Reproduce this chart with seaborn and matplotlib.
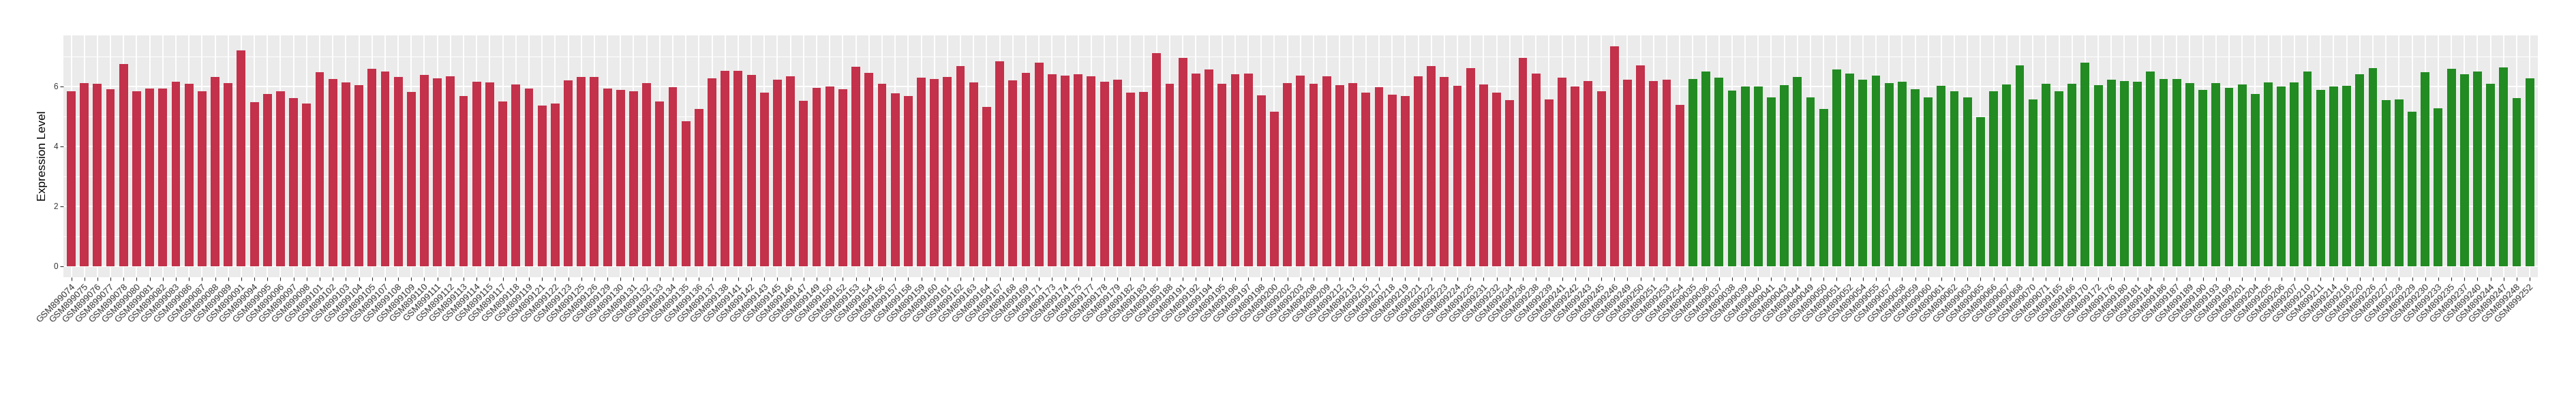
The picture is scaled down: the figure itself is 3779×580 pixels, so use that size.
import matplotlib
matplotlib.use("Agg")
import matplotlib.pyplot as plt
import seaborn as sns
import pandas as pd
from matplotlib.ticker import MultipleLocator

tumor_samples = [
    "GSM899074", "GSM899075", "GSM899076", "GSM899077", "GSM899078", "GSM899080", "GSM899081", "GSM899082",
    "GSM899083", "GSM899086", "GSM899087", "GSM899088", "GSM899089", "GSM899091", "GSM899094", "GSM899095",
    "GSM899096", "GSM899097", "GSM899098", "GSM899101", "GSM899102", "GSM899103", "GSM899104", "GSM899105",
    "GSM899107", "GSM899108", "GSM899109", "GSM899110", "GSM899111", "GSM899112", "GSM899113", "GSM899114",
    "GSM899115", "GSM899117", "GSM899118", "GSM899119", "GSM899121", "GSM899122", "GSM899123", "GSM899125",
    "GSM899126", "GSM899129", "GSM899130", "GSM899131", "GSM899132", "GSM899133", "GSM899134", "GSM899135",
    "GSM899136", "GSM899137", "GSM899138", "GSM899141", "GSM899142", "GSM899143", "GSM899145", "GSM899146",
    "GSM899147", "GSM899149", "GSM899150", "GSM899152", "GSM899153", "GSM899154", "GSM899156", "GSM899157",
    "GSM899158", "GSM899159", "GSM899160", "GSM899161", "GSM899162", "GSM899163", "GSM899164", "GSM899167",
    "GSM899168", "GSM899169", "GSM899171", "GSM899173", "GSM899174", "GSM899175", "GSM899177", "GSM899178",
    "GSM899179", "GSM899182", "GSM899183", "GSM899185", "GSM899188", "GSM899191", "GSM899192", "GSM899194",
    "GSM899195", "GSM899196", "GSM899197", "GSM899198", "GSM899200", "GSM899202", "GSM899203", "GSM899208",
    "GSM899209", "GSM899212", "GSM899213", "GSM899215", "GSM899217", "GSM899218", "GSM899219", "GSM899221",
    "GSM899222", "GSM899223", "GSM899224", "GSM899225", "GSM899231", "GSM899232", "GSM899234", "GSM899236",
    "GSM899238", "GSM899239", "GSM899241", "GSM899242", "GSM899243", "GSM899245", "GSM899246", "GSM899249",
    "GSM899250", "GSM899251", "GSM899253", "GSM899254",
]
tumor_values = [
    5.84, 6.11, 6.09, 5.90, 6.74, 5.84, 5.93, 5.93, 6.15, 6.07,
    5.82, 6.31, 6.11, 7.19, 5.46, 5.74, 5.84, 5.60, 5.41, 6.46,
    6.23, 6.13, 6.03, 6.58, 6.50, 6.31, 5.80, 6.37, 6.27, 6.33,
    5.66, 6.15, 6.13, 5.48, 6.05, 5.93, 5.35, 5.41,
    6.19, 6.31, 6.31, 5.93, 5.88, 5.82, 6.11, 5.48, 5.97, 4.84,
    5.25, 6.27, 6.52, 6.52, 6.37, 5.78, 6.21, 6.33, 5.52, 5.95,
    5.99, 5.90, 6.64, 6.44, 6.09, 5.76, 5.68, 6.29, 6.23, 6.31,
    6.68, 6.13, 5.31, 6.84, 6.19, 6.44, 6.78, 6.39,
    6.35, 6.39, 6.33, 6.15, 6.21, 5.78, 5.80, 7.11, 6.09, 6.95,
    6.41, 6.56, 6.09, 6.39, 6.41, 5.70, 5.15, 6.11, 6.35, 6.09,
    6.33, 6.03, 6.11, 5.78, 5.97, 5.72, 5.66, 6.33, 6.66, 6.31,
    6.01, 6.60, 6.05, 5.78, 5.54, 6.95, 6.41, 5.56,
    6.29, 5.99, 6.17, 5.84, 7.33, 6.21, 6.70, 6.17, 6.21, 5.37,
]

normal_samples = [
    "GSM899035", "GSM899036", "GSM899037", "GSM899038", "GSM899039", "GSM899040", "GSM899041", "GSM899043",
    "GSM899044", "GSM899049", "GSM899050", "GSM899051", "GSM899052", "GSM899054", "GSM899055", "GSM899057",
    "GSM899058", "GSM899059", "GSM899060", "GSM899061", "GSM899062", "GSM899063", "GSM899065", "GSM899066",
    "GSM899067", "GSM899068", "GSM899070", "GSM899071", "GSM899165", "GSM899166", "GSM899170", "GSM899172",
    "GSM899176", "GSM899180", "GSM899181", "GSM899184", "GSM899186", "GSM899187", "GSM899189", "GSM899190",
    "GSM899193", "GSM899199", "GSM899201", "GSM899204", "GSM899205", "GSM899206", "GSM899207", "GSM899210",
    "GSM899211", "GSM899214", "GSM899216", "GSM899220", "GSM899226", "GSM899227", "GSM899228", "GSM899229",
    "GSM899230", "GSM899233", "GSM899235", "GSM899237", "GSM899240", "GSM899244", "GSM899247", "GSM899248",
    "GSM899252",
]
normal_values = [
    6.25, 6.48, 6.29, 5.86, 5.99, 5.99, 5.62, 6.03, 6.31, 5.62,
    5.25, 6.56, 6.41, 6.21, 6.35, 6.11, 6.15, 5.90, 5.62, 6.01,
    5.84, 5.62, 4.97, 5.82, 6.05, 6.70, 5.56, 6.07,
    5.84, 6.09, 6.78, 6.03, 6.21, 6.17, 6.15, 6.48, 6.23, 6.25,
    6.11, 5.88, 6.11, 5.95, 6.05, 5.74, 6.13, 5.99, 6.13, 6.48,
    5.88, 5.99, 6.01, 6.39, 6.60, 5.54, 5.56, 5.15, 6.46, 5.27,
    6.58, 6.39, 6.50, 6.09, 6.62, 5.60, 6.27,
]

groups = ["Tumor", "Normal"]
group_colors = {"Tumor": "#C3314A", "Normal": "#228B22"}

df = pd.DataFrame({
    "sample": tumor_samples + normal_samples,
    "value": tumor_values + normal_values,
    "group": [groups[0]] * len(tumor_samples) + [groups[1]] * len(normal_samples),
})

sns.set_theme(style="darkgrid")
plt.rcParams["font.family"] = ["Liberation Sans", "DejaVu Sans"]

fig = plt.figure(figsize=(37.8, 5.8), dpi=100)
ax = fig.add_axes([93 / 3780, 1 - 406.7 / 580, (3722.7 - 93) / 3780, (406.7 - 51.7) / 580])
ax.set_facecolor("#EBEBEB")

sns.barplot(data=df, x="sample", y="value", hue="group", palette=group_colors,
            order=list(df["sample"]), hue_order=groups, dodge=False, width=0.67,
            saturation=1, legend=False, ax=ax, linewidth=0, errorbar=None)

n = len(df)
ax.set_xlim(-0.6, n - 1 + 0.6)
ax.set_ylim(-0.367, 7.70)
ax.yaxis.set_major_locator(MultipleLocator(2))
ax.yaxis.set_minor_locator(MultipleLocator(1))
ax.set_axisbelow(True)
ax.grid(which="major", axis="both", color="white", linewidth=1.4)
ax.grid(which="minor", axis="y", color="white", linewidth=0.7)
for s in ax.spines.values():
    s.set_visible(False)

ax.tick_params(axis="both", which="major", length=3.6, width=0.8, color="#333333",
               labelcolor="#333333", pad=2, bottom=True, left=True)
ax.tick_params(axis="y", which="minor", length=0)
ax.tick_params(axis="y", labelsize=8.5)
plt.setp(ax.get_xticklabels(), rotation=45, ha="right", va="top",
         rotation_mode="anchor", fontsize=9.5)
ax.set_xlabel("")
ax.set_ylabel("Expression Level", fontsize=12.5, color="black", labelpad=6)

fig.savefig("out.png", dpi=100)
